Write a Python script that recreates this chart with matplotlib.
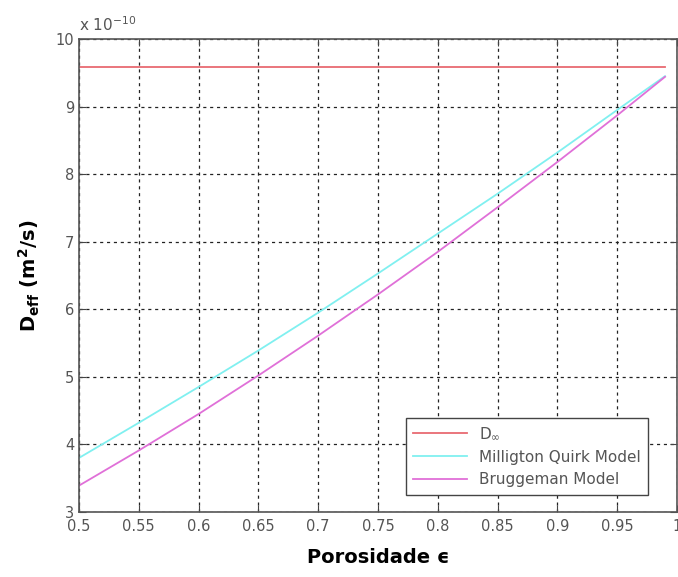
import numpy as np
import matplotlib
matplotlib.use('Agg')
import matplotlib.pyplot as plt

# porosity values and diffusivities (units of 1e-10 m2/s)
eps = [0.5, 0.55, 0.6, 0.65, 0.7, 0.75, 0.8, 0.85, 0.9, 0.95, 0.99]
d_inf = [9.58] * len(eps)
d_mq = [3.80, 4.32, 4.85, 5.39, 5.95, 6.53, 7.12, 7.71, 8.32, 8.95, 9.45]
d_brug = [3.39, 3.91, 4.45, 5.02, 5.61, 6.22, 6.85, 7.51, 8.18, 8.87, 9.44]

xticks = [0.5, 0.55, 0.6, 0.65, 0.7, 0.75, 0.8, 0.85, 0.9, 0.95, 1.0]
xticklabels = ['0.5', '0.55', '0.6', '0.65', '0.7', '0.75', '0.8', '0.85', '0.9', '0.95', '1']
yticks = [3, 4, 5, 6, 7, 8, 9, 10]

fig = plt.figure(figsize=(6.78, 5.77), dpi=100)
ax = fig.add_axes([0.1165, 0.1127, 0.882, 0.8197])

ax.plot(eps, d_inf, color='#e86a72', linewidth=1.3, label=r'D$_{\infty}$')
ax.plot(eps, d_mq, color='#80f0f0', linewidth=1.3, label='Milligton Quirk Model')
ax.plot(eps, d_brug, color='#e070d8', linewidth=1.3, label='Bruggeman Model')

ax.set_xlim(0.5, 1.0)
ax.set_ylim(3, 10)
ax.set_xticks(xticks)
ax.set_xticklabels(xticklabels)
ax.set_yticks(yticks)
ax.tick_params(direction='in', top=True, right=True, length=5,
               labelsize=10.5, labelcolor='#555555', color='#444444')
ax.tick_params(axis='x', pad=5)
ax.grid(True, linestyle=(0, (2.5, 3)), color='#222222', linewidth=0.9)
for s in ax.spines.values():
    s.set_color('#555555')
    s.set_linewidth(1.2)

ax.set_xlabel('Porosidade ϵ', fontsize=14, fontweight='bold', labelpad=10)
ax.set_ylabel(r'$\mathbf{D_{eff}}$ (m$^\mathbf{2}$/s)', fontsize=14, fontweight='bold', labelpad=10)
ax.text(0.0, 1.01, r'x 10$^{-10}$', transform=ax.transAxes, fontsize=11,
        color='#555555', ha='left', va='bottom')

leg = ax.legend(loc='lower right', bbox_to_anchor=(0.965, 0.02), fontsize=11,
                fancybox=False, framealpha=1, edgecolor='#444444',
                handlelength=3.5, borderpad=0.5, labelspacing=0.5)
for t in leg.get_texts():
    t.set_color('#555555')

fig.savefig('out.png', dpi=100)
